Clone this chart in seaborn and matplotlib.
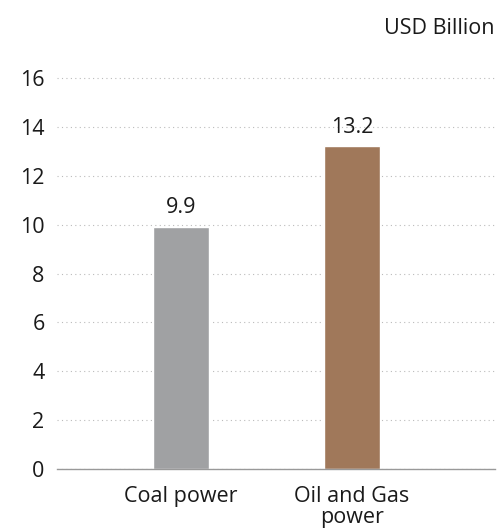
import matplotlib
matplotlib.use("Agg")
import matplotlib.pyplot as plt
import seaborn as sns
import pandas as pd

categories = ["Coal power", "Oil and Gas\npower"]
values = [9.9, 13.2]
value_labels = ["9.9", "13.2"]
colors = ["#A0A1A3", "#A0785A"]
y_ticks = [0, 2, 4, 6, 8, 10, 12, 14, 16]
unit_label = "USD Billion"

sns.set_theme(style="white")
plt.rcParams["font.family"] = ["Open Sans", "DejaVu Sans"]

FS = 15.5
TXT = "#1a1a1a"

df = pd.DataFrame({"category": categories, "value": values})

fig = plt.figure(figsize=(4.99, 5.28), dpi=100)
ax = fig.add_axes([57 / 499, 1 - 469 / 528, 438 / 499, (469 - 60) / 528])

sns.barplot(data=df, x="category", y="value", hue="category",
            palette=colors, width=0.33, legend=False, ax=ax, saturation=1)

ax.set_ylim(0, 16 * 409 / 391)
ax.set_xlim(-0.725, 1.836)
ax.set_yticks(y_ticks)
ax.set_yticklabels([str(t) for t in y_ticks], fontsize=FS, color=TXT)
ax.tick_params(axis="y", length=0, pad=9)
ax.tick_params(axis="x", length=0, pad=12, labelsize=FS, labelcolor=TXT)
for lab in ax.get_xticklabels():
    lab.set_linespacing(1.0)
ax.set_xlabel("")
ax.set_ylabel("")

ax.yaxis.grid(True, linestyle=(0, (1, 3)), color="#BBBBBB", linewidth=0.8)
ax.set_axisbelow(True)
for side in ["top", "right", "left"]:
    ax.spines[side].set_visible(False)
ax.spines["bottom"].set_color("#999999")
ax.spines["bottom"].set_linewidth(1.0)

for i, (v, lab) in enumerate(zip(values, value_labels)):
    ax.annotate(lab, (i, v), xytext=(0, 10), textcoords="offset points",
                ha="center", va="baseline", fontsize=FS, color=TXT)

fig.text(495 / 499, 1 - 29 / 528, unit_label, ha="right", va="center",
         fontsize=FS, color=TXT)

fig.savefig("out.png", dpi=100)
